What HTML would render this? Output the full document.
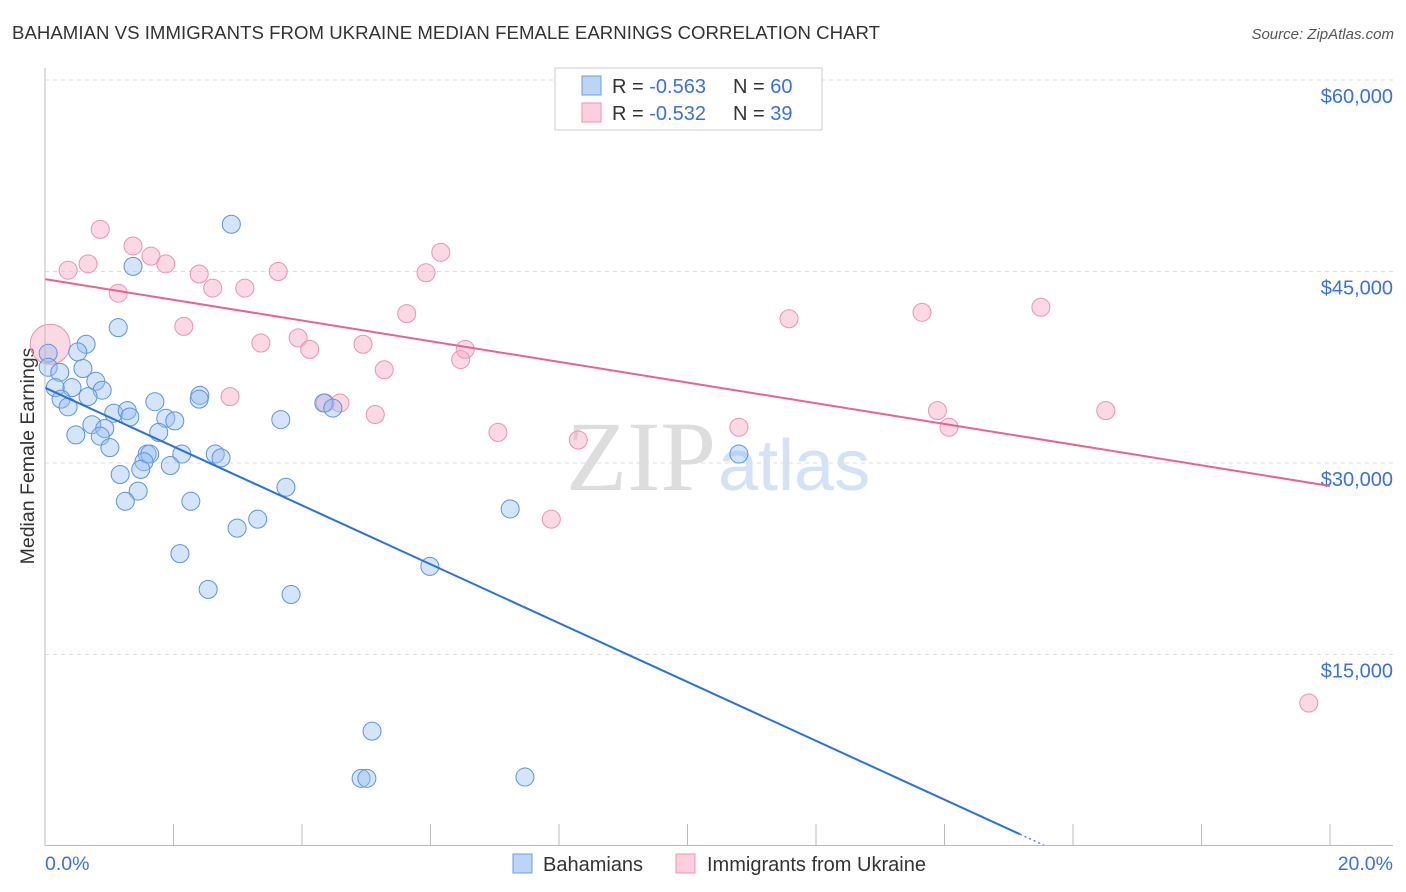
<!DOCTYPE html>
<html><head><meta charset="utf-8"><style>
body{margin:0;background:#fff;font-family:"Liberation Sans",sans-serif;}
svg{display:block}
</style></head><body>
<svg id="chart" width="1406" height="892">
<text x="12" y="39" font-size="18.6" fill="#333" textLength="868">BAHAMIAN VS IMMIGRANTS FROM UKRAINE MEDIAN FEMALE EARNINGS CORRELATION CHART</text>
<text x="1394" y="39" font-size="15" fill="#555" font-style="italic" text-anchor="end">Source: ZipAtlas.com</text>
<text x="34" y="456" font-size="19.5" fill="#333" text-anchor="middle" transform="rotate(-90 34 456)">Median Female Earnings</text>
<text x="716" y="490" font-size="100" fill="#ddd" font-family="Liberation Serif,serif" text-anchor="end">ZIP</text>
<text x="718" y="490" font-size="72" fill="#d4e2f5">atlas</text>
<g id="grid"></g><g id="pts"></g><g id="lines"></g>
<line x1="45" y1="68" x2="45" y2="846" stroke="#bbb"/>
<line x1="45" y1="845.5" x2="1393" y2="845.5" stroke="#bbb"/>
<text x="45" y="870" font-size="19.5" fill="#3a72d8">0.0%</text>
<text x="1393" y="870" font-size="19.5" fill="#3a72d8" text-anchor="end">20.0%</text>
<g>
<rect x="513" y="854" width="19" height="19" fill="#bcd4f6" stroke="#6d9ee6"/>
<text x="543" y="871" font-size="20" fill="#333">Bahamians</text>
<rect x="676" y="854" width="19" height="19" fill="#fbcfdc" stroke="#eb93ad"/>
<text x="707" y="871" font-size="20" fill="#333">Immigrants from Ukraine</text>
</g>
<g>
<rect x="555" y="68" width="267" height="62" fill="#fff" stroke="#ccc"/>
<rect x="582" y="76" width="19" height="19" fill="#bcd4f6" stroke="#6d9ee6"/>
<text x="612" y="93" font-size="20" fill="#333">R = <tspan fill="#3a72d8">-0.563</tspan></text>
<text x="733" y="93" font-size="20" fill="#333">N = <tspan fill="#3a72d8">60</tspan></text>
<rect x="582" y="103" width="19" height="19" fill="#fbcfdc" stroke="#eb93ad"/>
<text x="612" y="120" font-size="20" fill="#333">R = <tspan fill="#3a72d8">-0.532</tspan></text>
<text x="733" y="120" font-size="20" fill="#333">N =  <tspan fill="#3a72d8">39</tspan></text>
</g>
</svg>
<script>
const yTicks=[15000,30000,45000,60000];
const yTickLabels=["$15,000","$30,000","$45,000","$60,000"];
const xTicks=[0,2,4,6,8,10,12,14,16,18,20];
const bahX=[2.9,1.37,1.14,0.64,0.51,0.05,0.05,0.23,0.59,0.79,0.16,0.42,0.89,0.25,0.36,0.67,1.71,2.41,2.40,1.07,1.28,1.32,1.88,2.02,3.67,4.34,4.48,0.73,0.93,0.48,0.86,1.01,1.77,1.59,1.63,2.13,2.65,2.74,1.54,1.49,1.95,1.17,1.45,1.25,2.27,3.75,3.31,2.99,7.24,2.1,2.54,3.83,5.99,10.8,5.09,4.92,5.01,7.47];
const bahY=[48700,45400,40600,39300,38700,38600,37500,37100,37400,36400,35900,35900,35700,35000,34400,35200,34800,35300,35000,33900,34100,33600,33500,33300,33400,34700,34300,33000,32700,32200,32100,31200,32400,30700,30700,30700,30700,30400,30100,29500,29800,29100,27800,27000,27000,28100,25600,24900,26400,22900,20100,19700,21900,30700,9000,5300,5300,5400];
const ukrX=[0.86,1.37,0.67,0.36,1.65,1.88,2.4,3.63,6.16,5.93,1.14,2.61,3.11,2.16,5.63,11.58,13.65,15.5,3.36,3.94,4.12,4.95,6.54,6.47,5.28,2.88,4.59,4.36,5.14,7.05,8.3,10.8,13.89,14.07,16.51,7.88,19.67,0.08];
const ukrY=[48300,47000,45600,45100,46200,45600,44800,45000,46500,44900,43300,43700,43700,40700,41700,41300,41800,42200,39400,39800,38900,39300,38900,38100,37300,35200,34700,34700,33800,32400,31800,32800,34100,32800,34100,25600,11200,39300];
const ukrR=[9,9,9,9,9,9,9,9,9,9,9,9,9,9,9,9,9,9,9,9,9,9,9,9,9,9,9,9,9,9,9,9,9,9,9,9,9,20];
const trendX=[0,20];
const ukrTrend=[44400,28200];
const bahTrend=[35900,-10200];
const NS="http://www.w3.org/2000/svg";
const xs=v=>45+v*64.25, ys=v=>846-v*0.012767;
function mk(t,a,p){const e=document.createElementNS(NS,t);for(const k in a)e.setAttribute(k,a[k]);document.getElementById(p).appendChild(e);return e;}
yTicks.forEach((t,i)=>{
 const l=mk('line',{x1:45,x2:1393,y1:ys(t),y2:ys(t),stroke:'#ddd','stroke-dasharray':'4 4'},'grid');
 
 
 const tx=mk('text',{x:1393,y:ys(t)+23,'font-size':20,fill:'#3a72d8','text-anchor':'end'},'grid');
 tx.textContent=yTickLabels[i];
 
 
});
xTicks.forEach(t=>{
 const l=mk('line',{x1:xs(t),x2:xs(t),y1:824,y2:846,stroke:'#bbb'},'grid');
 
 
});
ukrX.forEach((v,i)=>{
 const c=mk('circle',{cx:xs(v),cy:ys(ukrY[i]),r:ukrR[i],fill:'rgba(246,170,195,0.45)',stroke:'#eb93ad','stroke-width':1},'pts');
 
 
});
bahX.forEach((v,i)=>{
 const c=mk('circle',{cx:xs(v),cy:ys(bahY[i]),r:9,fill:'rgba(150,190,240,0.4)',stroke:'#5b93e0','stroke-width':1},'pts');
 
 
});
const pl=mk('line',{x1:xs(trendX[0]),y1:ys(ukrTrend[0]),x2:xs(trendX[1]),y2:ys(ukrTrend[1]),stroke:'#e8638f','stroke-width':2},'lines');


const yAt=x=>bahTrend[0]+(bahTrend[1]-bahTrend[0])*(x-trendX[0])/(trendX[1]-trendX[0]);
const xz=Math.min(20,(0-bahTrend[0])/(bahTrend[1]-bahTrend[0])*20);
const xEnd=xz-0.4;
const bl=mk('line',{x1:xs(0),y1:ys(bahTrend[0]),x2:xs(xEnd),y2:ys(yAt(xEnd)),stroke:'#2a72d8','stroke-width':2},'lines');


const bd=mk('line',{x1:xs(xEnd),y1:ys(yAt(xEnd)),x2:xs(xz),y2:ys(Math.max(yAt(xz),0)),stroke:'#2a72d8','stroke-width':1.2,'stroke-dasharray':'2 3'},'lines');


</script>
</body></html>
